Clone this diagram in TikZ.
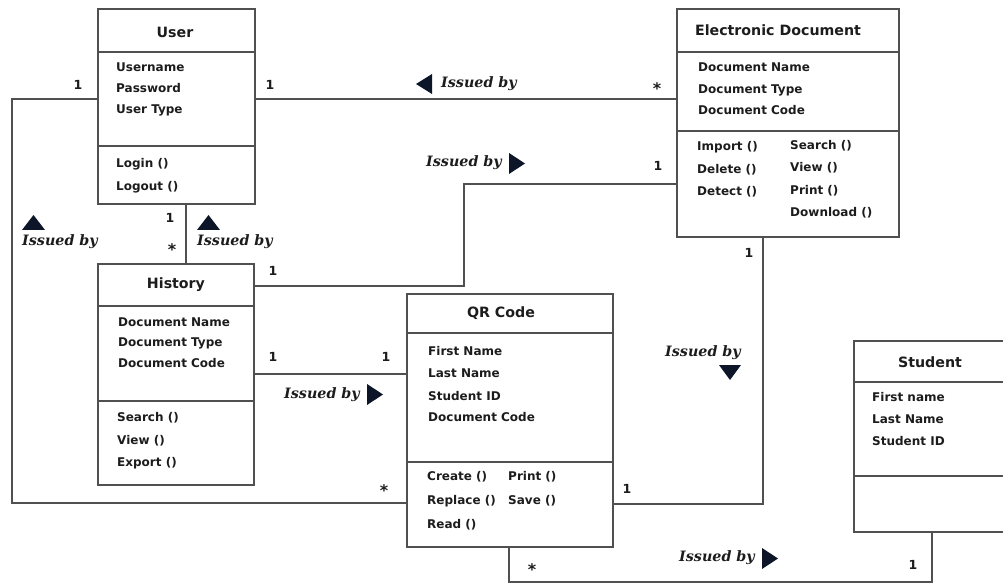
\documentclass[tikz,border=0pt]{standalone}
\usepackage{fontspec}
\setmainfont{DejaVu Sans}
\newfontfamily\issuedfont{DejaVu Serif}
\definecolor{linegray}{RGB}{80,80,80}
\definecolor{txt}{RGB}{28,28,28}
\definecolor{trifill}{RGB}{12,22,40}
\begin{document}
\begin{tikzpicture}[x=1pt,y=-1pt,
  line/.style={draw=linegray, line width=1.8pt},
  classbox/.style={line, rectangle, inner sep=0pt, anchor=north west},
  title/.style={font=\bfseries\fontsize{14.2}{16}\selectfont, text=txt, inner sep=0pt},
  attr/.style={font=\bfseries\fontsize{12}{14}\selectfont, text=txt, inner sep=0pt,
               anchor=west, text height=8.8pt, text depth=2.2pt},
  mult/.style={font=\bfseries\fontsize{12.5}{14}\selectfont, text=txt, inner sep=0pt},
  many/.style={font=\bfseries\fontsize{16}{18}\selectfont, text=txt, inner sep=0pt},
  issued/.style={font=\issuedfont\bfseries\itshape\fontsize{14.3}{16}\selectfont, text=txt, inner sep=0pt},
  tri/.style={fill=trifill}]
\useasboundingbox (0,0) rectangle (1003,585);
\clip (0,0) rectangle (1003,585);

% ---------- class boxes ----------
\node[classbox, minimum width=157pt, minimum height=195pt] (user) at (97,8) {};
\draw[line] (user.west |- 0,52) -- (user.east |- 0,52);
\draw[line] (user.west |- 0,146) -- (user.east |- 0,146);
\node[title] (userT) at (175,32) {User};
\node[attr] (u1) at (116,68) {Username};
\node[attr] (u2) at (116,89) {Password};
\node[attr] (u3) at (116,110) {User Type};
\node[attr] (u4) at (116,164) {Login ()};
\node[attr] (u5) at (116,187) {Logout ()};

\node[classbox, minimum width=222pt, minimum height=228pt] (doc) at (676,8) {};
\draw[line] (doc.west |- 0,52) -- (doc.east |- 0,52);
\draw[line] (doc.west |- 0,131) -- (doc.east |- 0,131);
\node[title] (docT) at (778,30) {Electronic Document};
\node[attr] (d1) at (698,68) {Document Name};
\node[attr] (d2) at (698,90) {Document Type};
\node[attr] (d3) at (698,111) {Document Code};
\node[attr] (d4) at (697,147) {Import ()};
\node[attr] (d5) at (697,170) {Delete ()};
\node[attr] (d6) at (697,192) {Detect ()};
\node[attr] (d7) at (790,146) {Search ()};
\node[attr] (d8) at (790,168) {View ()};
\node[attr] (d9) at (790,191) {Print ()};
\node[attr] (d10) at (790,213) {Download ()};

\node[classbox, minimum width=156pt, minimum height=221pt] (hist) at (97,263) {};
\draw[line] (hist.west |- 0,306) -- (hist.east |- 0,306);
\draw[line] (hist.west |- 0,401) -- (hist.east |- 0,401);
\node[title] (histT) at (176,285) {History};
\node[attr] (h1) at (118,323) {Document Name};
\node[attr] (h2) at (118,343) {Document Type};
\node[attr] (h3) at (118,364) {Document Code};
\node[attr] (h4) at (117,418) {Search ()};
\node[attr] (h5) at (117,441) {View ()};
\node[attr] (h6) at (117,463) {Export ()};

\node[classbox, minimum width=206pt, minimum height=253pt] (qr) at (406,293) {};
\draw[line] (qr.west |- 0,333) -- (qr.east |- 0,333);
\draw[line] (qr.west |- 0,462) -- (qr.east |- 0,462);
\node[title] (qrT) at (501,313) {QR Code};
\node[attr] (q1) at (428,352) {First Name};
\node[attr] (q2) at (428,374) {Last Name};
\node[attr] (q3) at (428,397) {Student ID};
\node[attr] (q4) at (428,418) {Document Code};
\node[attr] (q5) at (427,477) {Create ()};
\node[attr] (q6) at (427,501) {Replace ()};
\node[attr] (q7) at (427,525) {Read ()};
\node[attr] (q8) at (508,477) {Print ()};
\node[attr] (q9) at (508,501) {Save ()};

\node[classbox, minimum width=160pt, minimum height=191pt] (stud) at (853,340) {};
\draw[line] (stud.west |- 0,382) -- (stud.east |- 0,382);
\draw[line] (stud.west |- 0,476) -- (stud.east |- 0,476);
\node[title] (studT) at (930,362) {Student};
\node[attr] (s1) at (872,398) {First name};
\node[attr] (s2) at (872,420) {Last Name};
\node[attr] (s3) at (872,442) {Student ID};

% ---------- associations ----------
\draw[line] (user.west |- 0,99) -- (12,99) -- (12,503) -- (qr.west |- 0,503);
\draw[line] (user.east |- 0,99) -- (doc.west |- 0,99);
\draw[line] (doc.west |- 0,184) -- (464,184) -- (464,286) -- (hist.east |- 0,286);
\draw[line] (doc.south -| 763,0) -- (763,504) -- (qr.east |- 0,504);
\draw[line] (user.south -| 186,0) -- (hist.north -| 186,0);
\draw[line] (hist.east |- 0,374) -- (qr.west |- 0,374);
\draw[line] (qr.south -| 509,0) -- (509,582) -- (932,582) -- (stud.south -| 932,0);

% ---------- multiplicities ----------
\node[mult] (m1) at (78,85) {1};
\node[mult] (m2) at (270,85) {1};
\node[many] (m3) at (657,89) {*};
\node[mult] (m4) at (658,166) {1};
\node[mult] (m5) at (170,218) {1};
\node[many] (m6) at (172,250) {*};
\node[mult] (m7) at (273,271) {1};
\node[mult] (m8) at (749,253) {1};
\node[mult] (m9) at (273,357) {1};
\node[mult] (m10) at (386,357) {1};
\node[many] (m11) at (384,491) {*};
\node[mult] (m12) at (627,489) {1};
\node[many] (m13) at (532,570) {*};
\node[mult] (m14) at (913,565) {1};

% ---------- role labels ----------
\node[issued] (i1) at (60,242) {Issued by};
\node[issued] (i2) at (235,242) {Issued by};
\node[issued] (i3) at (479,84) {Issued by};
\node[issued] (i4) at (464,163) {Issued by};
\node[issued] (i5) at (322,395) {Issued by};
\node[issued] (i6) at (703,353) {Issued by};
\node[issued] (i7) at (717,558) {Issued by};

% direction arrows
\fill[tri] (22,230) -- (45,230) -- (33.5,215) -- cycle;
\fill[tri] (197,230) -- (220,230) -- (208.5,215) -- cycle;
\fill[tri] (432,74) -- (432,94) -- (416,84) -- cycle;
\fill[tri] (509,153) -- (509,174) -- (525,163.5) -- cycle;
\fill[tri] (367,384) -- (367,405) -- (383,394.5) -- cycle;
\fill[tri] (719,365) -- (741,365) -- (730,380) -- cycle;
\fill[tri] (762,548) -- (762,569) -- (778,558.5) -- cycle;
\end{tikzpicture}
\end{document}
